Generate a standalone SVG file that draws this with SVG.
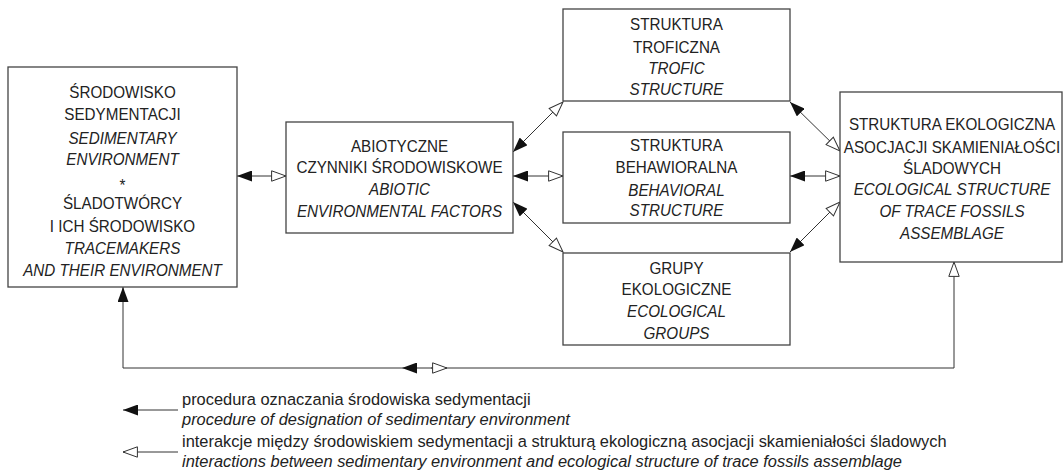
<svg xmlns="http://www.w3.org/2000/svg" width="1064" height="472" viewBox="0 0 1064 472">
<style>
.box{fill:#fff;stroke:#444;stroke-width:1.3}
.ln{fill:none;stroke:#333;stroke-width:1}
text{font-family:"Liberation Sans",Arial,sans-serif;fill:#222}
.r{font-size:17.3px;text-anchor:middle}
.i{font-size:17.3px;text-anchor:middle;font-style:italic}
.lr{font-size:16.6px;text-anchor:start}
.li{font-size:16.6px;text-anchor:start;font-style:italic}
</style>
<defs>
<marker id="bk" markerUnits="userSpaceOnUse" markerWidth="15" markerHeight="11" viewBox="0 0 15 11" refX="15" refY="5.5" orient="auto-start-reverse"><path d="M0,0 L15,5.5 L0,11 Z" fill="#111"/></marker>
<marker id="op" markerUnits="userSpaceOnUse" markerWidth="16" markerHeight="12" viewBox="0 0 16 12" refX="15.2" refY="6" orient="auto-start-reverse"><path d="M0.8,0.8 L15.2,6 L0.8,11.2 Z" fill="#fff" stroke="#333" stroke-width="1"/></marker>
</defs>

<g id="connectors">
<path class="ln" d="M237,176 H286" marker-start="url(#bk)" marker-end="url(#op)"/>
<path class="ln" d="M513,152 L563,102" marker-start="url(#bk)" marker-end="url(#op)"/>
<path class="ln" d="M513,176 H563" marker-start="url(#bk)" marker-end="url(#op)"/>
<path class="ln" d="M513,202 L563,252" marker-start="url(#bk)" marker-end="url(#op)"/>
<path class="ln" d="M790,102 L840,151" marker-start="url(#bk)" marker-end="url(#op)"/>
<path class="ln" d="M790,176 H840" marker-start="url(#bk)" marker-end="url(#op)"/>
<path class="ln" d="M790,252 L840,202" marker-start="url(#bk)" marker-end="url(#op)"/>
<path class="ln" d="M402,368 H123 V287" marker-end="url(#bk)"/>
<path class="ln" d="M431,368 H402" marker-end="url(#bk)"/>
<path class="ln" d="M431,368 H954 V262" marker-end="url(#op)"/>
<path class="ln" d="M431,368 H447" marker-end="url(#op)"/>
</g>

<g id="node-sedimentary">
<rect class="box" x="8" y="67" width="229" height="220"/>
<text class="r" transform="translate(122.5,98) scale(0.88,1)">ŚRODOWISKO</text>
<text class="r" transform="translate(122.5,120) scale(0.88,1)">SEDYMENTACJI</text>
<text class="i" transform="translate(122.5,144) scale(0.88,1)">SEDIMENTARY</text>
<text class="i" transform="translate(122.5,165) scale(0.88,1)">ENVIRONMENT</text>
<text class="r" transform="translate(122.5,191) scale(0.88,1)">*</text>
<text class="r" transform="translate(122.5,209) scale(0.88,1)">ŚLADOTWÓRCY</text>
<text class="r" transform="translate(122.5,232) scale(0.88,1)">I ICH ŚRODOWISKO</text>
<text class="i" transform="translate(122.5,254) scale(0.88,1)">TRACEMAKERS</text>
<text class="i" transform="translate(122.5,276) scale(0.88,1)">AND THEIR ENVIRONMENT</text>
</g>

<g id="node-abiotic">
<rect class="box" x="286" y="122" width="227" height="111"/>
<text class="r" transform="translate(399.5,152) scale(0.88,1)">ABIOTYCZNE</text>
<text class="r" transform="translate(399.5,173) scale(0.88,1)">CZYNNIKI ŚRODOWISKOWE</text>
<text class="i" transform="translate(399.5,195) scale(0.88,1)">ABIOTIC</text>
<text class="i" transform="translate(399.5,217) scale(0.88,1)">ENVIRONMENTAL FACTORS</text>
</g>

<g id="node-trofic">
<rect class="box" x="563" y="9" width="227" height="92"/>
<text class="r" transform="translate(676.5,30) scale(0.88,1)">STRUKTURA</text>
<text class="r" transform="translate(676.5,53) scale(0.88,1)">TROFICZNA</text>
<text class="i" transform="translate(676.5,74) scale(0.88,1)">TROFIC</text>
<text class="i" transform="translate(676.5,95) scale(0.88,1)">STRUCTURE</text>
</g>

<g id="node-behavioral">
<rect class="box" x="563" y="132" width="227" height="91"/>
<text class="r" transform="translate(676.5,151) scale(0.88,1)">STRUKTURA</text>
<text class="r" transform="translate(676.5,173) scale(0.88,1)">BEHAWIORALNA</text>
<text class="i" transform="translate(676.5,196) scale(0.88,1)">BEHAVIORAL</text>
<text class="i" transform="translate(676.5,216) scale(0.88,1)">STRUCTURE</text>
</g>

<g id="node-groups">
<rect class="box" x="563" y="253" width="227" height="92"/>
<text class="r" transform="translate(676.5,274) scale(0.88,1)">GRUPY</text>
<text class="r" transform="translate(676.5,295) scale(0.88,1)">EKOLOGICZNE</text>
<text class="i" transform="translate(676.5,317) scale(0.88,1)">ECOLOGICAL</text>
<text class="i" transform="translate(676.5,339) scale(0.88,1)">GROUPS</text>
</g>

<g id="node-ecological">
<rect class="box" x="840" y="92" width="222" height="170"/>
<text class="r" transform="translate(952,130) scale(0.88,1)">STRUKTURA EKOLOGICZNA</text>
<text class="r" transform="translate(952,153) scale(0.88,1)">ASOCJACJI SKAMIENIAŁOŚCI</text>
<text class="r" transform="translate(952,174) scale(0.88,1)">ŚLADOWYCH</text>
<text class="i" transform="translate(952,195) scale(0.88,1)">ECOLOGICAL STRUCTURE</text>
<text class="i" transform="translate(952,217) scale(0.88,1)">OF TRACE FOSSILS</text>
<text class="i" transform="translate(952,239) scale(0.88,1)">ASSEMBLAGE</text>
</g>

<g id="legend">
<path class="ln" d="M178,410 H123" marker-end="url(#bk)"/>
<path class="ln" d="M178,452 H123" marker-end="url(#op)"/>
<text class="lr" transform="translate(182,405) scale(0.99,1)">procedura oznaczania środowiska sedymentacji</text>
<text class="li" transform="translate(182,425) scale(0.99,1)">procedure of designation of sedimentary environment</text>
<text class="lr" transform="translate(182,447) scale(0.99,1)">interakcje między środowiskiem sedymentacji a strukturą ekologiczną asocjacji skamieniałości śladowych</text>
<text class="li" transform="translate(182,467) scale(0.99,1)">interactions between sedimentary environment and ecological structure of trace fossils assemblage</text>
</g>
</svg>
